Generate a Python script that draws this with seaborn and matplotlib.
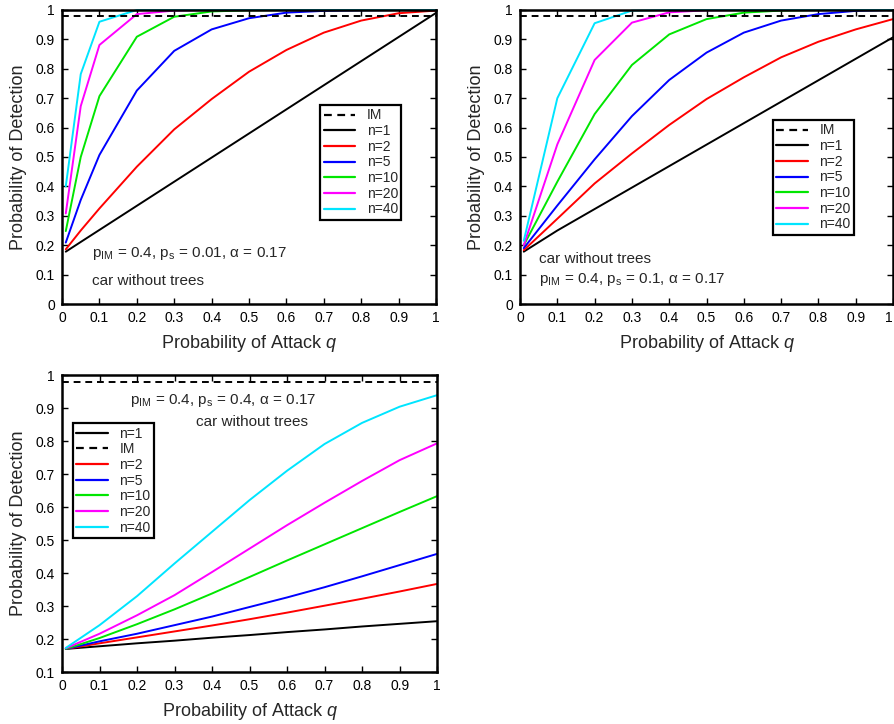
import numpy as np
import pandas as pd
import matplotlib
matplotlib.use("Agg")
import matplotlib.pyplot as plt
from matplotlib.lines import Line2D
import seaborn as sns

# ---- data -------------------------------------------------------------
series_names = ["n=1", "n=2", "n=5", "n=10", "n=20", "n=40"]
series_colors = ["#000000", "#ff0000", "#0000ff", "#00e600", "#ff00ff", "#00e5ff"]

# p_s = 0.01
q_a = [0.01, 0.05, 0.1, 0.2, 0.3, 0.4, 0.5, 0.6, 0.7, 0.8, 0.9, 1.0]
a_n1 = [0.178, 0.211, 0.252, 0.334, 0.416, 0.498, 0.580, 0.662, 0.744, 0.826, 0.908, 0.990]
a_n2 = [0.186, 0.250, 0.325, 0.467, 0.594, 0.697, 0.790, 0.864, 0.923, 0.964, 0.989, 0.998]
a_n5 = [0.209, 0.354, 0.507, 0.726, 0.861, 0.934, 0.972, 0.991, 0.997, 0.999, 1.0, 1.0]
a_n10 = [0.248, 0.500, 0.707, 0.909, 0.977, 0.995, 0.999, 1.0, 1.0, 1.0, 1.0, 1.0]
a_n20 = [0.308, 0.673, 0.881, 0.986, 0.998, 1.0, 1.0, 1.0, 1.0, 1.0, 1.0, 1.0]
a_n40 = [0.400, 0.782, 0.960, 1.0, 1.0, 1.0, 1.0, 1.0, 1.0, 1.0, 1.0, 1.0]

# p_s = 0.1
q_b = [0.01, 0.1, 0.2, 0.3, 0.4, 0.5, 0.6, 0.7, 0.8, 0.9, 1.0]
b_n1 = [0.178, 0.250, 0.323, 0.396, 0.469, 0.542, 0.615, 0.688, 0.761, 0.834, 0.907]
b_n2 = [0.183, 0.290, 0.410, 0.512, 0.609, 0.697, 0.771, 0.839, 0.892, 0.934, 0.969]
b_n5 = [0.190, 0.335, 0.492, 0.639, 0.762, 0.855, 0.923, 0.964, 0.986, 0.997, 1.0]
b_n10 = [0.200, 0.416, 0.646, 0.813, 0.917, 0.969, 0.991, 0.998, 1.0, 1.0, 1.0]
b_n20 = [0.200, 0.543, 0.830, 0.957, 0.992, 0.999, 1.0, 1.0, 1.0, 1.0, 1.0]
b_n40 = [0.215, 0.700, 0.955, 0.998, 1.0, 1.0, 1.0, 1.0, 1.0, 1.0, 1.0]

# p_s = 0.4
q_c = [0.01, 0.1, 0.2, 0.3, 0.4, 0.5, 0.6, 0.7, 0.8, 0.9, 1.0]
c_n1 = [0.170, 0.178, 0.187, 0.195, 0.204, 0.212, 0.221, 0.229, 0.238, 0.246, 0.254]
c_n2 = [0.170, 0.187, 0.205, 0.223, 0.241, 0.260, 0.280, 0.301, 0.322, 0.344, 0.367]
c_n5 = [0.170, 0.193, 0.216, 0.242, 0.268, 0.297, 0.326, 0.357, 0.390, 0.424, 0.458]
c_n10 = [0.170, 0.203, 0.245, 0.290, 0.338, 0.388, 0.438, 0.487, 0.536, 0.585, 0.633]
c_n20 = [0.172, 0.216, 0.272, 0.333, 0.403, 0.474, 0.545, 0.613, 0.679, 0.742, 0.793]
c_n40 = [0.173, 0.242, 0.330, 0.429, 0.525, 0.621, 0.710, 0.791, 0.855, 0.904, 0.939]

im_level = [0.98, 0.98, 0.98]

x_ticks = [0, 0.1, 0.2, 0.3, 0.4, 0.5, 0.6, 0.7, 0.8, 0.9, 1]
x_tick_labels = ["0", "0.1", "0.2", "0.3", "0.4", "0.5", "0.6", "0.7", "0.8", "0.9", "1"]
y_ticks_full = [0, 0.1, 0.2, 0.3, 0.4, 0.5, 0.6, 0.7, 0.8, 0.9, 1]
y_labels_full = ["0", "0.1", "0.2", "0.3", "0.4", "0.5", "0.6", "0.7", "0.8", "0.9", "1"]
y_ticks_c = y_ticks_full[1:]
y_labels_c = y_labels_full[1:]

notes_a = ["$\\mathregular{p_{IM}}$ = 0.4, $\\mathregular{p_s}$ = 0.01, α = 0.17", "car without trees"]
notes_b = ["car without trees", "$\\mathregular{p_{IM}}$ = 0.4, $\\mathregular{p_s}$ = 0.1, α = 0.17"]
notes_c = ["$\\mathregular{p_{IM}}$ = 0.4, $\\mathregular{p_s}$ = 0.4, α = 0.17", "car without trees"]

# ---- style ------------------------------------------------------------
sns.set_theme(style="ticks")
plt.rcParams["font.family"] = ["Liberation Sans", "DejaVu Sans"]
plt.rcParams["mathtext.fontset"] = "custom"
plt.rcParams["mathtext.rm"] = "Liberation Sans"
plt.rcParams["mathtext.it"] = "Liberation Sans:italic"
plt.rcParams["mathtext.default"] = "regular"


def long_frame(q, columns):
    frames = []
    for name, vals in zip(series_names, columns):
        frames.append(pd.DataFrame({"q": q, "pd": vals, "series": name}))
    return pd.concat(frames, ignore_index=True)


def draw_panel(ax, q, columns, im, ylim, yticks, ylabels):
    df = long_frame(q, columns)
    sns.lineplot(data=df, x="q", y="pd", hue="series", hue_order=series_names,
                 palette=series_colors, linewidth=1.4, ax=ax, legend=False,
                 sort=False, clip_on=False)
    ax.axhline(im, color="black", linestyle=(0, (3.5, 2.5)), linewidth=1.4)
    ax.set_xlim(0, 1)
    ax.set_ylim(*ylim)
    ax.set_xticks(x_ticks)
    ax.set_xticklabels(x_tick_labels)
    ax.set_yticks(yticks)
    ax.set_yticklabels(ylabels)
    ax.tick_params(direction="in", length=4, width=1.0, top=True, right=True,
                   labelsize=10, pad=5, colors="black")
    for sp in ax.spines.values():
        sp.set_linewidth(1.8)
        sp.set_color("black")
    ax.set_ylabel("Probability of Detection", fontsize=13, labelpad=6)
    ax.set_xlabel("Probability of Attack $\\it{q}$", fontsize=13, labelpad=6)


def add_legend(ax, order, anchor):
    handles = []
    for key in order:
        if key == "IM":
            handles.append(Line2D([], [], color="black", linestyle=(0, (3.5, 2.5)),
                                  linewidth=1.6, label="IM"))
        else:
            i = series_names.index(key)
            handles.append(Line2D([], [], color=series_colors[i], linewidth=1.6, label=key))
    leg = ax.legend(handles=handles, loc="upper left", bbox_to_anchor=anchor,
                    fontsize=10, frameon=True, fancybox=False, framealpha=1,
                    edgecolor="black", handlelength=2.3, handletextpad=0.8,
                    labelspacing=0.12, borderpad=0.25, borderaxespad=0)
    leg.get_frame().set_linewidth(1.6)


fig = plt.figure(figsize=(8.94, 7.24), dpi=100)
ax_a = fig.add_axes([0.0694, 0.5801, 0.4183, 0.4061])
ax_b = fig.add_axes([0.5817, 0.5801, 0.4172, 0.4061])
ax_c = fig.add_axes([0.0694, 0.0718, 0.4195, 0.4102])

draw_panel(ax_a, q_a, [a_n1, a_n2, a_n5, a_n10, a_n20, a_n40], im_level[0],
           (0, 1), y_ticks_full, y_labels_full)
draw_panel(ax_b, q_b, [b_n1, b_n2, b_n5, b_n10, b_n20, b_n40], im_level[1],
           (0, 1), y_ticks_full, y_labels_full)
draw_panel(ax_c, q_c, [c_n1, c_n2, c_n5, c_n10, c_n20, c_n40], im_level[2],
           (0.1, 1), y_ticks_c, y_labels_c)

# the right panel reaches the figure edge: keep its last x label inside
ax_b.get_xticklabels()[-1].set_horizontalalignment("right")

legend_order = ["IM"] + series_names
add_legend(ax_a, legend_order, (0.69, 0.677))
add_legend(ax_b, legend_order, (0.678, 0.626))
add_legend(ax_c, ["n=1", "IM"] + series_names[1:], (0.029, 0.838))

ax_a.text(0.08, 0.173, notes_a[0], fontsize=11, va="center", ha="left")
ax_a.text(0.08, 0.078, notes_a[1], fontsize=11, va="center", ha="left")
ax_b.text(0.05, 0.153, notes_b[0], fontsize=11, va="center", ha="left")
ax_b.text(0.05, 0.085, notes_b[1], fontsize=11, va="center", ha="left")
ax_c.text(0.43, 0.922, notes_c[0], fontsize=11, va="center", ha="center")
ax_c.text(0.506, 0.858, notes_c[1], fontsize=11, va="center", ha="center")

fig.savefig("out.png", dpi=100)
